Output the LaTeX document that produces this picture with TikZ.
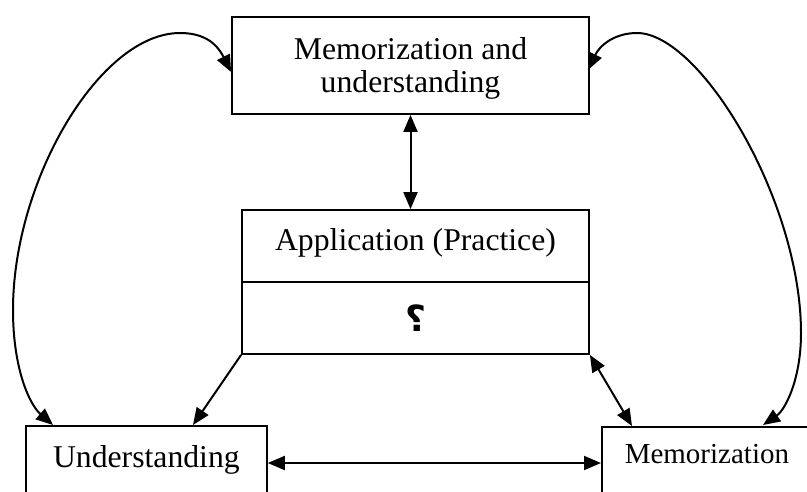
\documentclass[tikz,border=0pt]{standalone}
\usepackage{fontspec}
\setmainfont{Liberation Serif}
\newfontfamily\arabicfont[Script=Arabic]{DejaVu Sans}
\TeXXeTstate=1
\usetikzlibrary{arrows.meta,calc}
\begin{document}
\begin{tikzpicture}[x=1pt,y=-1pt,
  box/.style={draw=black,line width=1.8pt,rectangle,inner sep=0pt,align=center},
  conn/.style={line width=2pt,-{Triangle[length=17pt,width=14pt]}},
  dconn/.style={line width=2pt,{Triangle[length=17pt,width=14pt]}-{Triangle[length=17pt,width=14pt]}},
  big/.style={font=\fontsize{31.7}{33}\selectfont}]
\useasboundingbox (0,0) rectangle (807,491);
\clip (0,0) rectangle (807,491);
\node[box,big,minimum width=357pt,minimum height=97pt] (mu) at (410.5,65.5) {\rule{0pt}{28.7pt}Memorization and\\understanding};
\node[box,big,minimum width=347pt,minimum height=72pt,text height=18pt,text depth=10pt] (app) at (415.5,246) {Application (Practice)};
\node[box,minimum width=347pt,minimum height=72pt,font=\fontsize{36}{40}\selectfont\bfseries] (q) at (415.5,318) {\arabicfont\beginR ؟\endR};
\node[box,big,anchor=north west,minimum width=241pt,text height=22pt,text depth=50pt,inner ysep=20pt] (und) at (25,425) {Understanding};
\node[box,anchor=north west,minimum width=210pt,text height=20pt,text depth=50pt,inner ysep=17pt,font=\fontsize{29}{32}\selectfont] (mem) at (601,426) {Memorization};
\draw[dconn] (mu.south) -- (mu.south |- app.north);
\draw[conn] (q.south west) -- ($(und.north west)+(168,0)$);
\draw[dconn] (q.south east) -- ($(mem.north west)+(31,0)$);
\draw[dconn] ($(und.north east)+(0,38)$) -- ($(mem.north west)+(0,37)$);
\draw[dconn] ($(mu.west)+(0,6.5)$) .. controls (215,40) and (200,33) .. (180,33)
  .. controls (100,33) and (13,180) .. (13,310)
  .. controls (13,370) and (30,405) .. ($(und.north west)+(28,0)$);
\draw[dconn] ($(mu.east)+(-2,4.5)$) .. controls (600,45) and (615,33) .. (637,33)
  .. controls (700,33) and (801,200) .. (801,333)
  .. controls (801,380) and (785,410) .. ($(mem.north west)+(162,-1)$);
\end{tikzpicture}
\end{document}
